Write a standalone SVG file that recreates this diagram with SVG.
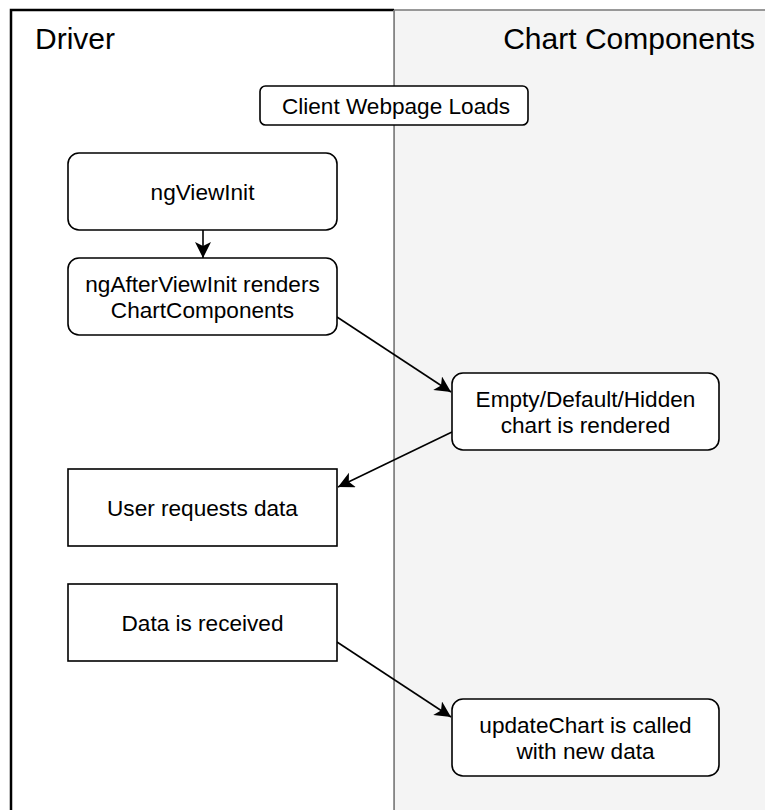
<svg xmlns="http://www.w3.org/2000/svg" width="765" height="810" viewBox="0 0 765 810">
  <style>
    .lane-title { font-family: "Liberation Sans", Arial, Helvetica, sans-serif; font-size: 30px; fill: #000; }
    .label { font-family: "Liberation Sans", Arial, Helvetica, sans-serif; font-size: 22.6px; fill: #000; text-anchor: middle; }
    .box { fill: #fff; stroke: #000; stroke-width: 1.6; }
    .edge { fill: none; stroke: #000; stroke-width: 1.6; }
  </style>
  <defs>
    <marker id="arrow" markerUnits="userSpaceOnUse" markerWidth="18" markerHeight="17" refX="16" refY="8" orient="auto" viewBox="0 0 18 17">
      <path d="M0,0 L16,8 L0,16 L4,8 Z" fill="#000"/>
    </marker>
  </defs>
  <rect width="765" height="810" fill="#fff"/>

  <g id="lanes">
    <rect x="394" y="10" width="420" height="830" fill="#f4f4f4" stroke="#808080" stroke-width="1.6"/>
    <rect x="11" y="10" width="383" height="830" fill="#fff"/>
    <path d="M11,840 V10 H394" fill="none" stroke="#000" stroke-width="2.5"/>
    <line x1="394" y1="10" x2="394" y2="840" stroke="#808080" stroke-width="1.6"/>
    <text class="lane-title" x="35" y="49">Driver</text>
    <text class="lane-title" x="755" y="49" text-anchor="end">Chart Components</text>
  </g>

  <g id="connectors">
    <path class="edge" d="M203,230 L203,258" marker-end="url(#arrow)"/>
    <path class="edge" d="M337,317 L451,392" marker-end="url(#arrow)"/>
    <path class="edge" d="M452,432 L338,487" marker-end="url(#arrow)"/>
    <path class="edge" d="M337,642 L451,717" marker-end="url(#arrow)"/>
  </g>

  <g id="client-webpage-loads">
    <rect class="box" x="260" y="86" width="268" height="39" rx="5.5"/>
    <text class="label" x="396" y="114">Client Webpage Loads</text>
  </g>

  <g id="ngViewInit">
    <rect class="box" x="68" y="153" width="269" height="77" rx="11"/>
    <text class="label" x="202.5" y="200">ngViewInit</text>
  </g>

  <g id="ngAfterViewInit">
    <rect class="box" x="68" y="258" width="269" height="77" rx="11"/>
    <text class="label" x="202.5" y="292">ngAfterViewInit renders</text>
    <text class="label" x="202.5" y="318">ChartComponents</text>
  </g>

  <g id="empty-chart">
    <rect class="box" x="452" y="373" width="267" height="77" rx="11"/>
    <text class="label" x="585.5" y="407">Empty/Default/Hidden</text>
    <text class="label" x="585.5" y="433">chart is rendered</text>
  </g>

  <g id="user-requests-data">
    <rect class="box" x="68" y="469" width="269" height="77"/>
    <text class="label" x="202.5" y="515.5">User requests data</text>
  </g>

  <g id="data-is-received">
    <rect class="box" x="68" y="584" width="269" height="77"/>
    <text class="label" x="202.5" y="630.5">Data is received</text>
  </g>

  <g id="update-chart">
    <rect class="box" x="452" y="699" width="267" height="77" rx="11"/>
    <text class="label" x="585.5" y="733">updateChart is called</text>
    <text class="label" x="585.5" y="759">with new data</text>
  </g>
</svg>
